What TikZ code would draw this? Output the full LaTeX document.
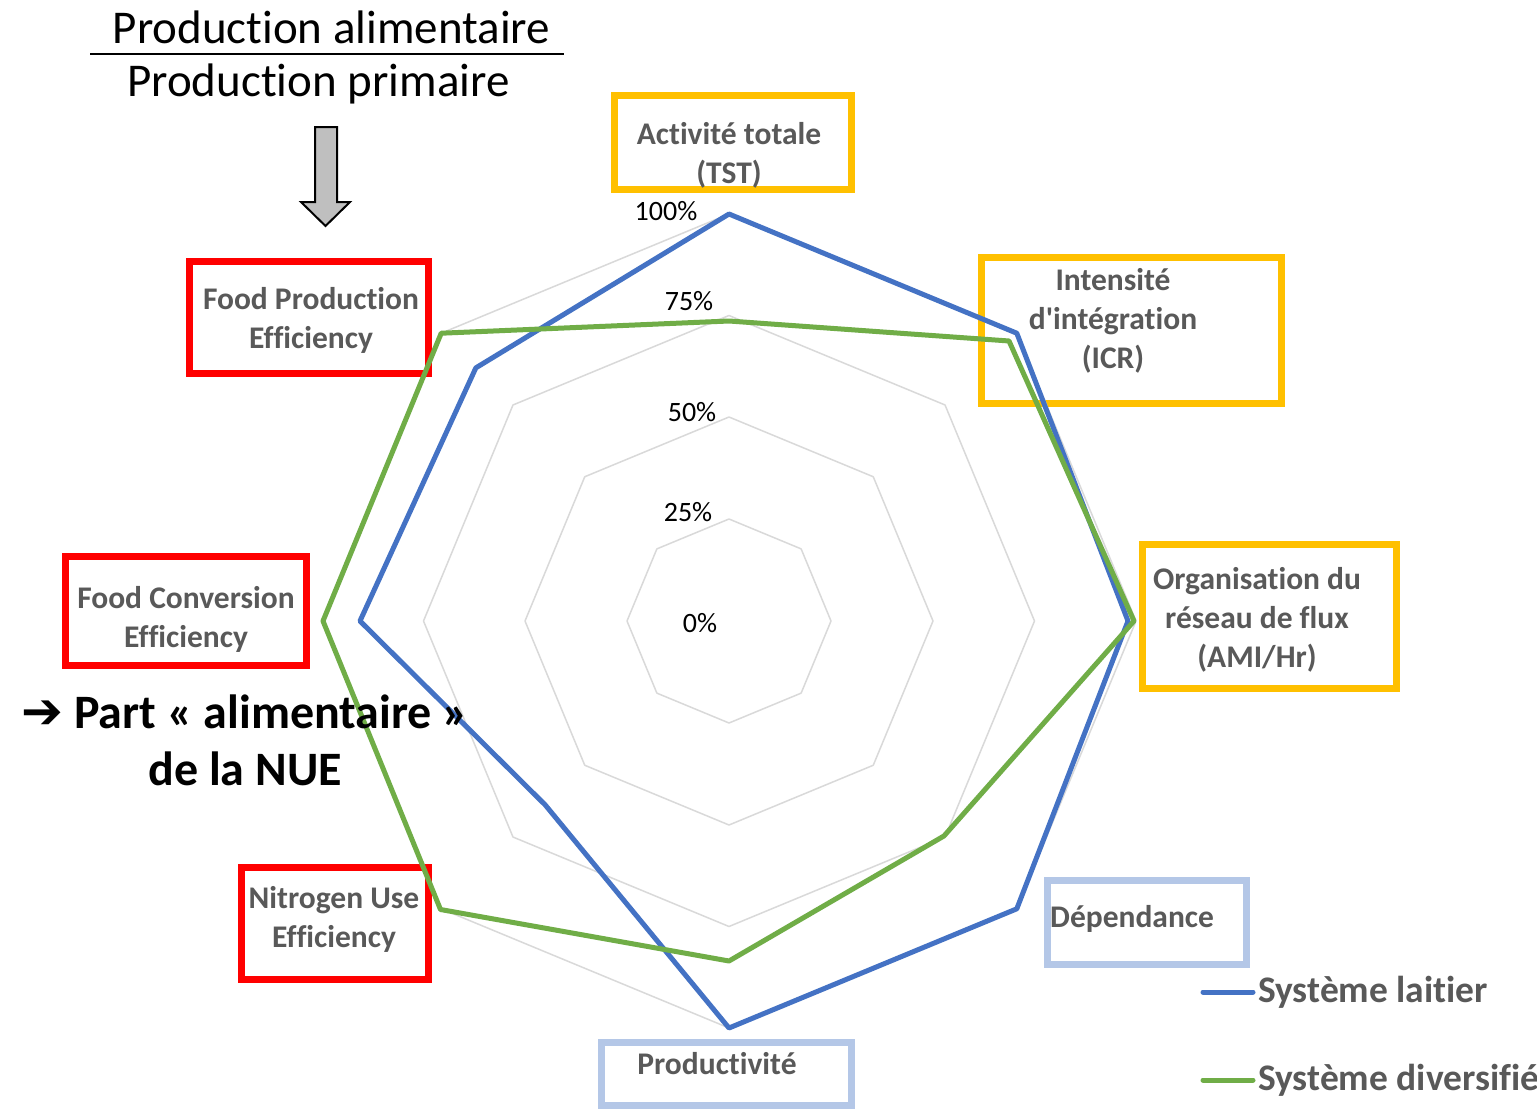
\documentclass[tikz,border=0pt]{standalone}
\usepackage{fontspec}
\setmainfont{Carlito}[Ligatures={TeXOff,CommonOff},RawFeature={-liga;-calt;-dlig}]
\newfontfamily\symfont{DejaVu Sans}

\definecolor{axisgray}{HTML}{D9D9D9}
\definecolor{labgray}{HTML}{595959}
\definecolor{serblue}{HTML}{4472C4}
\definecolor{sergreen}{HTML}{70AD47}
\definecolor{boxorange}{HTML}{FFC000}
\definecolor{boxblue}{HTML}{B4C7E7}
\definecolor{boxred}{HTML}{FF0000}
\definecolor{arrowgray}{HTML}{BFBFBF}

\begin{document}
\begin{tikzpicture}[x=1pt,y=-1pt,
  frame/.style={draw=#1,line width=7pt,inner sep=0pt},
  axlabel/.style={text=labgray,font=\fontsize{31.5}{39}\selectfont\bfseries,align=center,inner sep=0pt},
  pct/.style={font=\fontsize{28}{34}\selectfont,inner sep=0pt},
  gridline/.style={draw=axisgray,line width=1.5pt,line join=round},
  series/.style={draw=#1,line width=5pt,line join=round},
  legtext/.style={text=labgray,font=\fontsize{37.5}{42}\selectfont\bfseries,inner sep=0pt,anchor=west},
]
\useasboundingbox[fill=white] (0,0) rectangle (1537,1111);

% ---- ratio and block arrow (top left) ----
\node[font=\fontsize{47}{56}\selectfont,inner sep=0pt] (num) at (331.5,27) {Produc\kern0pt tion alimentaire};
\node[font=\fontsize{47}{56}\selectfont,inner sep=0pt] (den) at (318.5,84) {Produc\kern0pt tion primaire};
\coordinate (barL) at (90,54);
\coordinate (barR) at (564,54);
\draw[line width=1.3pt] (barL) -- (barR);
\draw[fill=arrowgray,line width=2pt,line join=miter]
  (315,127) -- (337,127) -- (337,202) -- (350,202) -- (325.5,226) -- (301,202) -- (315,202) -- cycle;

% ---- axis boxes ----
\node[frame=boxorange,minimum width=237pt,minimum height=94pt]  (bTST) at (732.5,142) {};
\node[frame=boxorange,minimum width=300pt,minimum height=146pt] (bICR) at (1131,330) {};
\node[frame=boxorange,minimum width=254pt,minimum height=144pt] (bAMI) at (1269,616) {};
\node[frame=boxblue,minimum width=199pt,minimum height=84pt]    (bDEP) at (1146.5,922) {};
\node[frame=boxblue,minimum width=250pt,minimum height=63pt]    (bPRO) at (726,1073.5) {};
\node[frame=boxred,minimum width=187pt,minimum height=112pt]    (bNUE) at (334.5,923) {};
\node[frame=boxred,minimum width=241pt,minimum height=109pt]    (bFCE) at (185.5,610.5) {};
\node[frame=boxred,minimum width=239pt,minimum height=112pt]    (bFPE) at (308.5,317) {};

% ---- radar grid and series ----
\begin{scope}[shift={(729,621)}]
  \foreach \r in {102,204,305.5,407}{
    \draw[gridline] (90:\r pt) -- (45:\r pt) -- (0:\r pt) -- (-45:\r pt) -- (-90:\r pt)
      -- (-135:\r pt) -- (180:\r pt) -- (135:\r pt) -- cycle;
  }
  % Système laitier
  \draw[series=serblue] (90:407pt) -- (45:407pt) -- (0:399pt) -- (-45:407pt) -- (-90:407pt)
    -- (-135:260pt) -- (180:369pt) -- (135:358pt) -- cycle;
  % Système diversifié
  \draw[series=sergreen] (90:300pt) -- (45:396pt) -- (0:405pt) -- (-45:304pt) -- (-90:340pt)
    -- (-135:408pt) -- (180:406pt) -- (135:407pt) -- cycle;
\end{scope}

% ---- scale labels ----
\node[pct] (p100) at (666,211) {100\%};
\node[pct] (p75)  at (689,301) {75\%};
\node[pct] (p50)  at (692,412) {50\%};
\node[pct] (p25)  at (688,512) {25\%};
\node[pct] (p0)   at (700,623) {0\%};

% ---- axis labels ----
\node[axlabel] (tTST) at (729,155.5) {Activité totale\\(TST)};
\node[axlabel] (tICR) at (1113,320.5) {Intensité\\d'intégration\\(ICR)};
\node[axlabel] (tAMI) at (1257,620) {Organisation du\\réseau de flux\\(AMI/Hr)};
\node[axlabel,anchor=west] (tDEP) at (1050,919) {Dépendance};
\node[axlabel] (tPRO) at (717,1064) {Productivité};
\node[axlabel] (tNUE) at (334,919.5) {Nitrogen Use\\Efficiency};
\node[axlabel] (tFCE) at (186,619.5) {Food Conversion\\Efficiency};
\node[axlabel] (tFPE) at (311,320.5) {Food Produc\kern0pt tion\\Efficiency};

% ---- conclusion text ----
\node[font=\fontsize{48}{57}\selectfont\bfseries,align=center,inner sep=0pt] (part) at (245,740)
  {{\symfont\bfseries\fontsize{50}{57}\selectfont ➔} Part « alimentaire »\\de la NUE};

% ---- legend ----
\coordinate (la1) at (1203,992);
\coordinate (la2) at (1253,992);
\coordinate (lb1) at (1203,1080);
\coordinate (lb2) at (1253,1080);
\draw[series=serblue,line cap=round] (la1) -- (la2);
\draw[series=sergreen,line cap=round] (lb1) -- (lb2);
\node[legtext] (leg1) at (1258,992) {Système laitier};
\node[legtext] (leg2) at (1258,1080) {Système diversifié};
\end{tikzpicture}
\end{document}
